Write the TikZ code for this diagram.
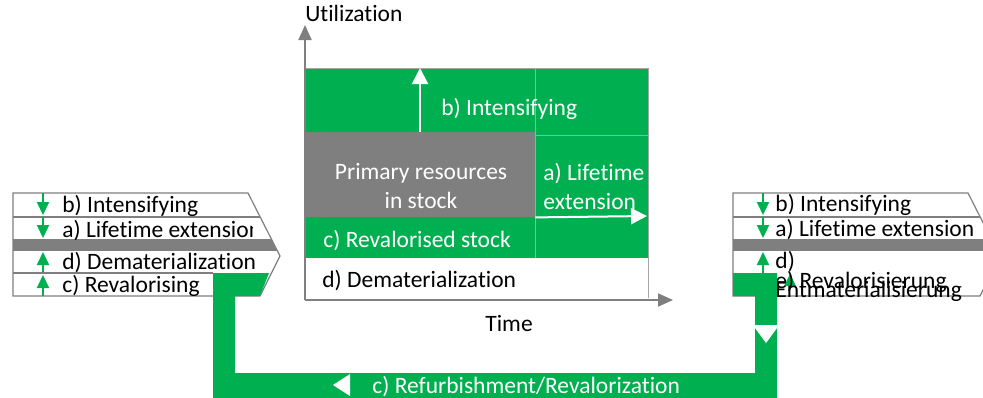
\documentclass[tikz,border=0pt]{standalone}
\usepackage{fontspec}
\setmainfont{Carlito}[Ligatures=NoCommon]
\usetikzlibrary{arrows.meta}
\definecolor{cgreen}{RGB}{0,176,80}
\definecolor{cgrey}{RGB}{127,127,127}
\definecolor{cline}{RGB}{165,165,165}

\begin{document}
\begin{tikzpicture}[x=0.5pt, y=-0.5pt,
  lbl/.style={inner sep=0pt, anchor=base west, font=\fontsize{11.75}{14.5}\selectfont},
  wlbl/.style={lbl, text=white},
  axis/.style={draw=cgrey, line width=1pt, -{Triangle[length=7.5pt, width=6.5pt]}},
  warr/.style={draw=white, line width=1pt, -{Triangle[length=8pt, width=8pt]}},
  garr/.style={draw=cgreen, line width=1pt, -{Triangle[length=6.5pt, width=6pt]}},
  edge/.style={draw=cline, line width=0.5pt},
  frame/.style={draw=cgrey, line width=0.6pt},
  stockbox/.style={fill=cgrey, inner sep=0pt, minimum width=115pt, minimum height=42.5pt}
]
\useasboundingbox (0,0) rectangle (983,397);

% the two chevron lists
\foreach \bx in {0,720} {
  \begin{scope}[shift={(\bx,0)}]
    \fill[white] (13,193) -- (248,193) -- (280,256) -- (260,296) -- (13,296) -- cycle;
    \begin{scope}
      \clip (13,193) -- (248,193) -- (280,256) -- (260,296) -- (13,296) -- cycle;
      \fill[cgrey] (13,239) rectangle (290,251);
      \draw[frame] (13,217) -- (290,217);
    \end{scope}
    \draw[frame] (13,193) -- (248,193) -- (280,256) -- (260,296) -- (13,296) -- cycle;
    \draw[garr] (43,193) -- (43,215);
    \draw[garr] (43,217) -- (43,238);
    \draw[garr] (43,273) -- (43,252);
    \draw[garr] (43,296) -- (43,275);
  \end{scope}
}
\draw[frame] (13,273) -- (213,273);
\fill[cgreen] (790,274) -- (796,286) -- (784,286) -- cycle;

\node[lbl] (lint) at (62,212) {b) Intensifying};
\begin{scope}
  \clip (13,217) rectangle (252,239);
  \node[lbl] (llife) at (62,237) {a) Lifetime extension};
\end{scope}
\node[lbl] (ldemat) at (62,269) {d) Dematerialization};
\node[lbl] (lreval) at (62,292) {c) Revalorising};

\node[lbl] (rint) at (775,211) {b) Intensifying};
\node[lbl] (rlife) at (775,236) {a) Lifetime extension};
\node[lbl] (rreval) at (775,288) {e) Revalorisierung};
\node[lbl, align=left] (rdemat) at (775,297) {d)\\Entmaterialisierung};

% utilization chart
\fill[cgreen] (305,68) rectangle (648,258);
\node[stockbox] (stock) at (420,174.5) {};
\draw[edge] (305,68) -- (648,68) -- (648,298);
\draw[edge] (535,68) -- (535,258);
\draw[edge] (535,135) -- (648,135);

\coordinate (ctop) at (420,68);
\coordinate (cright) at (647,216);
\draw[warr] (stock.north) -- (ctop);
\draw[warr] (stock.south east) -- (cright);

\node[wlbl] (intens) at (441,115) {b) Intensifying};
\node[wlbl, anchor=base, align=center] (stocklbl) at (421,208) {Primary resources\\in stock};
\node[wlbl, align=left] (life) at (543,209) {a) Lifetime\\extension};
\node[wlbl] (revstock) at (323,247) {c) Revalorised stock};
\node[lbl] (demat) at (322,287) {d) Dematerialization};

\coordinate (O) at (305,300);
\coordinate (ytip) at (305,25);
\coordinate (xtip) at (673,300);
\draw[axis] (O) -- (ytip);
\draw[axis] (O) -- (xtip);
\node[lbl] (ylbl) at (305,21.7) {Utilization};
\node[lbl] (xlbl) at (485,331.7) {Time};

% refurbishment loop
\fill[cgreen] (213,273) -- (269,273) -- (260,296) -- (235,296) -- (235,373)
  -- (755,373) -- (755,296) -- (733,296) -- (733,273) -- (777,273)
  -- (777,405) -- (213,405) -- cycle;
\fill[white] (755,325) -- (777,325) -- (777,328) -- (766,343) -- (755,328) -- cycle;
\fill[white] (333,385) -- (350,374) -- (350,396) -- cycle;
\node[wlbl] (refurb) at (372,393) {c) Refurbishment/Revalorization};

\end{tikzpicture}
\end{document}
